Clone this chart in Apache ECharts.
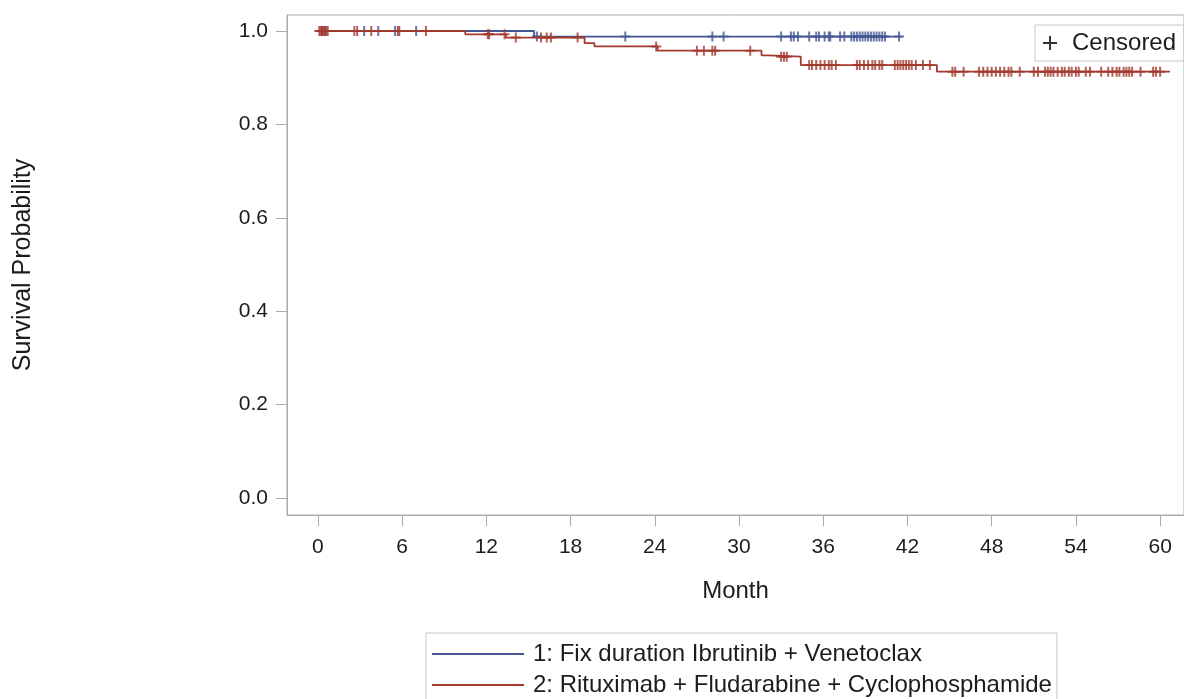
<!DOCTYPE html>
<html>
<head>
<meta charset="utf-8">
<script src="https://cdn.jsdelivr.net/npm/echarts@6/dist/echarts.min.js"></script>
<style>
  html, body { margin: 0; padding: 0; background: #fff; }
  #chart { width: 1184px; height: 699px; }
</style>
</head>
<body>
<div id="chart"></div>
<script>
// Kaplan-Meier steps: time (months) where survival drops, and the new value
const ivName = '1: Fix duration Ibrutinib + Venetoclax';
const ivTimes = [0, 15.4];
const ivSurv = [1.0, 0.988];
const ivLast = 41.6;
const ivCensor = [0.3, 0.5, 3.3, 4.3, 5.5, 7.0, 15.6, 21.9, 28.1, 28.9, 33.0, 33.7, 33.9, 34.2,
  35.0, 35.5, 35.7, 36.1, 36.4, 36.5, 37.2, 37.5, 38.0, 38.2, 38.4, 38.6, 38.8, 39.0, 39.2,
  39.4, 39.6, 39.8, 40.0, 40.2, 40.4, 41.4];

const rfcName = '2: Rituximab + Fludarabine + Cyclophosphamide';
const rfcTimes = [0, 10.5, 13.4, 19.0, 19.7, 24.2, 31.6, 32.1, 34.4, 44.1];
const rfcSurv = [1.0, 0.993, 0.986, 0.974, 0.967, 0.958, 0.948, 0.945, 0.927, 0.913];
const rfcLast = 60.7;
const rfcCensor = [0.1, 0.2, 0.3, 0.4, 0.5, 0.6, 0.7, 2.6, 2.8, 3.8, 5.7, 5.8, 7.7, 12.1, 12.2,
  13.3, 14.1, 15.9, 16.3, 16.6, 18.5, 24.1, 27.0, 27.5, 28.1, 28.3, 30.8, 33.0, 33.2, 33.4,
  35.0, 35.2, 35.5, 35.8, 36.1, 36.4, 36.6, 36.9, 38.4, 38.6, 38.9, 39.2, 39.5, 39.7, 40.0,
  40.2, 41.1, 41.3, 41.5, 41.7, 41.9, 42.1, 42.3, 42.6, 43.1, 43.6, 45.2, 45.4, 46.0, 47.1,
  47.4, 47.7, 48.0, 48.3, 48.6, 48.9, 49.2, 49.4, 50.0, 51.0, 51.3, 51.8, 52.0, 52.2, 52.4,
  52.7, 53.0, 53.2, 53.5, 53.7, 54.0, 54.2, 54.7, 55.0, 55.8, 56.3, 56.6, 56.9, 57.1, 57.4,
  57.6, 57.8, 58.0, 58.6, 59.5, 59.7, 60.0];

const xTicks = [0, 6, 12, 18, 24, 30, 36, 42, 48, 54, 60];
const yTicks = [0, 0.2, 0.4, 0.6, 0.8, 1.0];

const blue = '#445694';
const red = '#A23A2E';
const frame = '#a8acb0';
const ink = '#1c1c1c';
const font = "'Liberation Sans', Arial, sans-serif";
const plus = 'path://M4,0h2v4h4v2h-4v4h-2v-4h-4v-2h4z';
const legendPlus = 'path://M4.3,0h1.4v4.3h4.3v1.4h-4.3v4.3h-1.4v-4.3h-4.3v-1.4h4.3z';

function curve(times, surv, last) {
  const pts = times.map((t, i) => [t, surv[i]]);
  pts.push([last, surv[surv.length - 1]]);
  return pts;
}

function survAt(times, surv, t) {
  let s = surv[0];
  for (let i = 0; i < times.length; i++) {
    if (times[i] <= t) s = surv[i];
  }
  return s;
}

function censorPts(times, surv, cens) {
  return cens.map(t => [t, survAt(times, surv, t)]);
}

const chart = echarts.init(document.getElementById('chart'), null, { renderer: 'canvas' });

const option = {
  animation: false,
  backgroundColor: '#fff',
  textStyle: { fontFamily: font, color: ink },
  grid: {
    left: 287, top: 15, width: 899, height: 500,
    show: true, borderColor: frame, borderWidth: 1, backgroundColor: 'transparent'
  },
  xAxis: {
    type: 'value',
    min: -2.2,
    max: 61.7,
    name: 'Month',
    nameLocation: 'middle',
    nameGap: 64,
    nameTextStyle: { fontSize: 24, color: ink, fontFamily: font },
    axisLine: { show: true, onZero: false, lineStyle: { color: frame } },
    axisTick: { show: true, length: 11, customValues: xTicks, lineStyle: { color: frame } },
    axisLabel: { customValues: xTicks, margin: 22, fontSize: 21, color: ink, fontFamily: font },
    splitLine: { show: false }
  },
  yAxis: {
    type: 'value',
    min: -0.0364,
    max: 1.0343,
    name: 'Survival Probability',
    nameLocation: 'middle',
    nameRotate: 90,
    nameGap: 251,
    nameTextStyle: { fontSize: 25, color: ink, fontFamily: font },
    axisLine: { show: true, onZero: false, lineStyle: { color: frame } },
    axisTick: { show: true, length: 11, customValues: yTicks, lineStyle: { color: frame } },
    axisLabel: {
      customValues: yTicks, margin: 19, fontSize: 21, color: ink, fontFamily: font,
      formatter: v => v.toFixed(1)
    },
    splitLine: { show: false }
  },
  legend: [
    {
      data: [ivName, rfcName],
      orient: 'vertical',
      left: 426,
      top: 633,
      height: 120,
      padding: [9, 5, 6, 6],
      itemGap: 7,
      itemWidth: 92,
      itemHeight: 2,
      icon: 'rect',
      borderColor: '#c4c6c8',
      borderWidth: 1,
      selectedMode: false,
      textStyle: { fontSize: 24, lineHeight: 24, color: ink, fontFamily: font, padding: [0, 0, 0, 4] }
    },
    {
      data: ['Censored'],
      left: 1035,
      top: 25,
      padding: [6, 8, 6, 8],
      itemWidth: 14,
      itemHeight: 14,
      icon: legendPlus,
      borderColor: '#c4c6c8',
      borderWidth: 1,
      selectedMode: false,
      textStyle: { fontSize: 24, lineHeight: 24, color: ink, fontFamily: font, padding: [0, 0, 0, 10] }
    }
  ],
  series: [
    {
      name: ivName,
      type: 'line',
      step: 'end',
      data: curve(ivTimes, ivSurv, ivLast),
      showSymbol: false,
      color: blue,
      lineStyle: { color: blue, width: 1.8 },
      z: 2
    },
    {
      name: rfcName,
      type: 'line',
      step: 'end',
      data: curve(rfcTimes, rfcSurv, rfcLast),
      showSymbol: false,
      color: red,
      lineStyle: { color: red, width: 1.8 },
      z: 3
    },
    {
      name: 'ivCensor',
      type: 'scatter',
      data: censorPts(ivTimes, ivSurv, ivCensor),
      symbol: plus,
      symbolSize: 10,
      itemStyle: { color: blue },
      z: 2
    },
    {
      name: 'rfcCensor',
      type: 'scatter',
      data: censorPts(rfcTimes, rfcSurv, rfcCensor),
      symbol: plus,
      symbolSize: 10,
      itemStyle: { color: red },
      z: 3
    },
    {
      name: 'Censored',
      type: 'scatter',
      data: [],
      symbol: legendPlus,
      itemStyle: { color: '#000' }
    }
  ]
};

chart.setOption(option);
</script>
</body>
</html>
